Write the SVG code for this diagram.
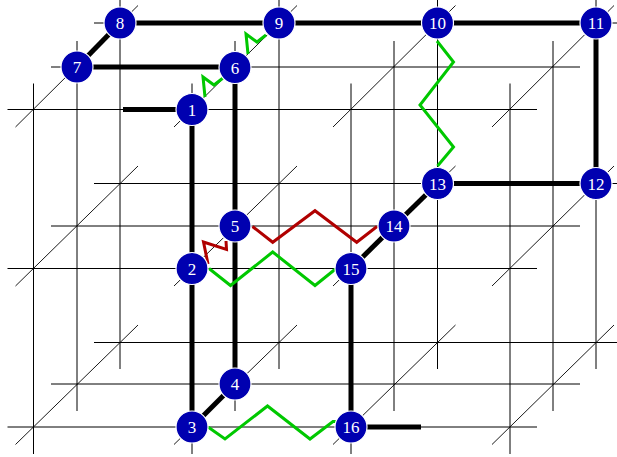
<svg xmlns="http://www.w3.org/2000/svg" width="617" height="457" viewBox="0 0 617 457">
<style>
.g{stroke:#000;stroke-width:1;fill:none}
.d{stroke:#000;stroke-width:0.9;fill:none}
.e{stroke:#000;stroke-width:5;fill:none}
.sg{stroke:#00c800;stroke-width:3;fill:none;stroke-linejoin:miter}
.sr{stroke:#b00000;stroke-width:3;fill:none;stroke-linejoin:miter}
.n circle{fill:#0000b0;stroke:#fff;stroke-width:1.2}
.n text{fill:#fff;font-family:"Liberation Serif",serif;font-size:17px;text-anchor:middle}
</style>
<rect width="617" height="457" fill="#fff"/>
<g id="grid">
<!-- horizontal rows -->
<line class="g" x1="7.5" y1="109.5" x2="537" y2="109.5"/>
<line class="g" x1="7.5" y1="268.5" x2="537" y2="268.5"/>
<line class="g" x1="7.5" y1="427" x2="537" y2="427"/>
<line class="g" x1="51" y1="67" x2="580" y2="67"/>
<line class="g" x1="51" y1="226" x2="580" y2="226"/>
<line class="g" x1="51" y1="384" x2="580" y2="384"/>
<line class="g" x1="94" y1="23" x2="623" y2="23"/>
<line class="g" x1="94" y1="183.5" x2="623" y2="183.5"/>
<line class="g" x1="94" y1="342.5" x2="623" y2="342.5"/>
<!-- vertical columns -->
<line class="g" x1="33.5" y1="83.5" x2="33.5" y2="454"/>
<line class="g" x1="192" y1="83.5" x2="192" y2="454"/>
<line class="g" x1="351" y1="83.5" x2="351" y2="454"/>
<line class="g" x1="510" y1="83.5" x2="510" y2="454"/>
<line class="g" x1="77" y1="41" x2="77" y2="411"/>
<line class="g" x1="235" y1="41" x2="235" y2="411"/>
<line class="g" x1="394" y1="41" x2="394" y2="411"/>
<line class="g" x1="553" y1="41" x2="553" y2="411"/>
<line class="g" x1="120" y1="-3" x2="120" y2="369"/>
<line class="g" x1="279" y1="-3" x2="279" y2="369"/>
<line class="g" x1="437.5" y1="-3" x2="437.5" y2="369"/>
<line class="g" x1="596" y1="-3" x2="596" y2="369"/>
<!-- depth diagonals -->
<line class="d" x1="15.5" y1="127" x2="138" y2="5.5"/>
<line class="d" x1="15.5" y1="286" x2="138" y2="166"/>
<line class="d" x1="15.5" y1="444.5" x2="138" y2="325"/>
<line class="d" x1="174" y1="127" x2="297" y2="5.5"/>
<line class="d" x1="174" y1="286" x2="297" y2="166"/>
<line class="d" x1="174" y1="444.5" x2="297" y2="325"/>
<line class="d" x1="333" y1="127" x2="455.5" y2="5.5"/>
<line class="d" x1="333" y1="286" x2="455.5" y2="166"/>
<line class="d" x1="333" y1="444.5" x2="455.5" y2="325"/>
<line class="d" x1="492" y1="127" x2="614" y2="5.5"/>
<line class="d" x1="492" y1="286" x2="614" y2="166"/>
<line class="d" x1="492" y1="444.5" x2="614" y2="325"/>
</g>
<g id="connectors">
<line class="e" x1="123" y1="109.5" x2="192" y2="109.5"/>
<line class="e" x1="192" y1="109.5" x2="192" y2="268.5"/>
<line class="e" x1="192" y1="268.5" x2="192" y2="427"/>
<line class="e" x1="192" y1="427" x2="235" y2="384"/>
<line class="e" x1="235" y1="384" x2="235" y2="226"/>
<line class="e" x1="235" y1="226" x2="235" y2="67"/>
<line class="e" x1="235" y1="67" x2="77" y2="67"/>
<line class="e" x1="77" y1="67" x2="120" y2="23"/>
<line class="e" x1="120" y1="23" x2="279" y2="23"/>
<line class="e" x1="279" y1="23" x2="437.5" y2="23"/>
<line class="e" x1="437.5" y1="23" x2="596" y2="23"/>
<line class="e" x1="596" y1="23" x2="596" y2="183.5"/>
<line class="e" x1="596" y1="183.5" x2="437.5" y2="183.5"/>
<line class="e" x1="437.5" y1="183.5" x2="394" y2="226"/>
<line class="e" x1="394" y1="226" x2="351" y2="268.5"/>
<line class="e" x1="351" y1="268.5" x2="351" y2="427"/>
<line class="e" x1="351" y1="427" x2="421" y2="427"/>
<polyline class="sg" points="205,97 203,77 214,85 223,78"/>
<polyline class="sg" points="248,54 246,34 257,42 266,35"/>
<polyline class="sg" points="437,41 453.5,62 420,105 453.5,147 437.5,166"/>
<polyline class="sg" points="209,268.5 230.5,285.5 272.7,252 315,285.5 335.5,269"/>
<polyline class="sg" points="208,427 225,439 267.5,406 310,439 333,421.5 336,421.5"/>
<polyline class="sr" points="208,264 203.5,242 226.5,249.5 226,241"/>
<polyline class="sr" points="252.5,226.5 272.7,242.3 315,210.7 356.7,242.3 377,226.5"/>
</g>
<g id="node1" class="n"><circle cx="192" cy="109.5" r="16"/><text x="192" y="115.5">1</text></g>
<g id="node2" class="n"><circle cx="192" cy="268.5" r="16"/><text x="192" y="274.5">2</text></g>
<g id="node3" class="n"><circle cx="192" cy="427" r="16"/><text x="192" y="433">3</text></g>
<g id="node4" class="n"><circle cx="235" cy="384" r="16"/><text x="235" y="390">4</text></g>
<g id="node5" class="n"><circle cx="235" cy="226" r="16"/><text x="235" y="232">5</text></g>
<g id="node6" class="n"><circle cx="235" cy="67.5" r="16"/><text x="235" y="73.5">6</text></g>
<g id="node7" class="n"><circle cx="77" cy="67" r="16"/><text x="77" y="73">7</text></g>
<g id="node8" class="n"><circle cx="120" cy="23" r="16"/><text x="120" y="29">8</text></g>
<g id="node9" class="n"><circle cx="279" cy="23" r="16"/><text x="279" y="29">9</text></g>
<g id="node10" class="n"><circle cx="437.5" cy="23" r="16"/><text x="437.5" y="29">10</text></g>
<g id="node11" class="n"><circle cx="596" cy="23" r="16"/><text x="596" y="29">11</text></g>
<g id="node12" class="n"><circle cx="596" cy="183.5" r="16"/><text x="596" y="189.5">12</text></g>
<g id="node13" class="n"><circle cx="437.5" cy="183.5" r="16"/><text x="437.5" y="189.5">13</text></g>
<g id="node14" class="n"><circle cx="394" cy="226" r="16"/><text x="394" y="232">14</text></g>
<g id="node15" class="n"><circle cx="351" cy="268.5" r="16"/><text x="351" y="274.5">15</text></g>
<g id="node16" class="n"><circle cx="351" cy="427" r="16"/><text x="351" y="433">16</text></g>
</svg>
